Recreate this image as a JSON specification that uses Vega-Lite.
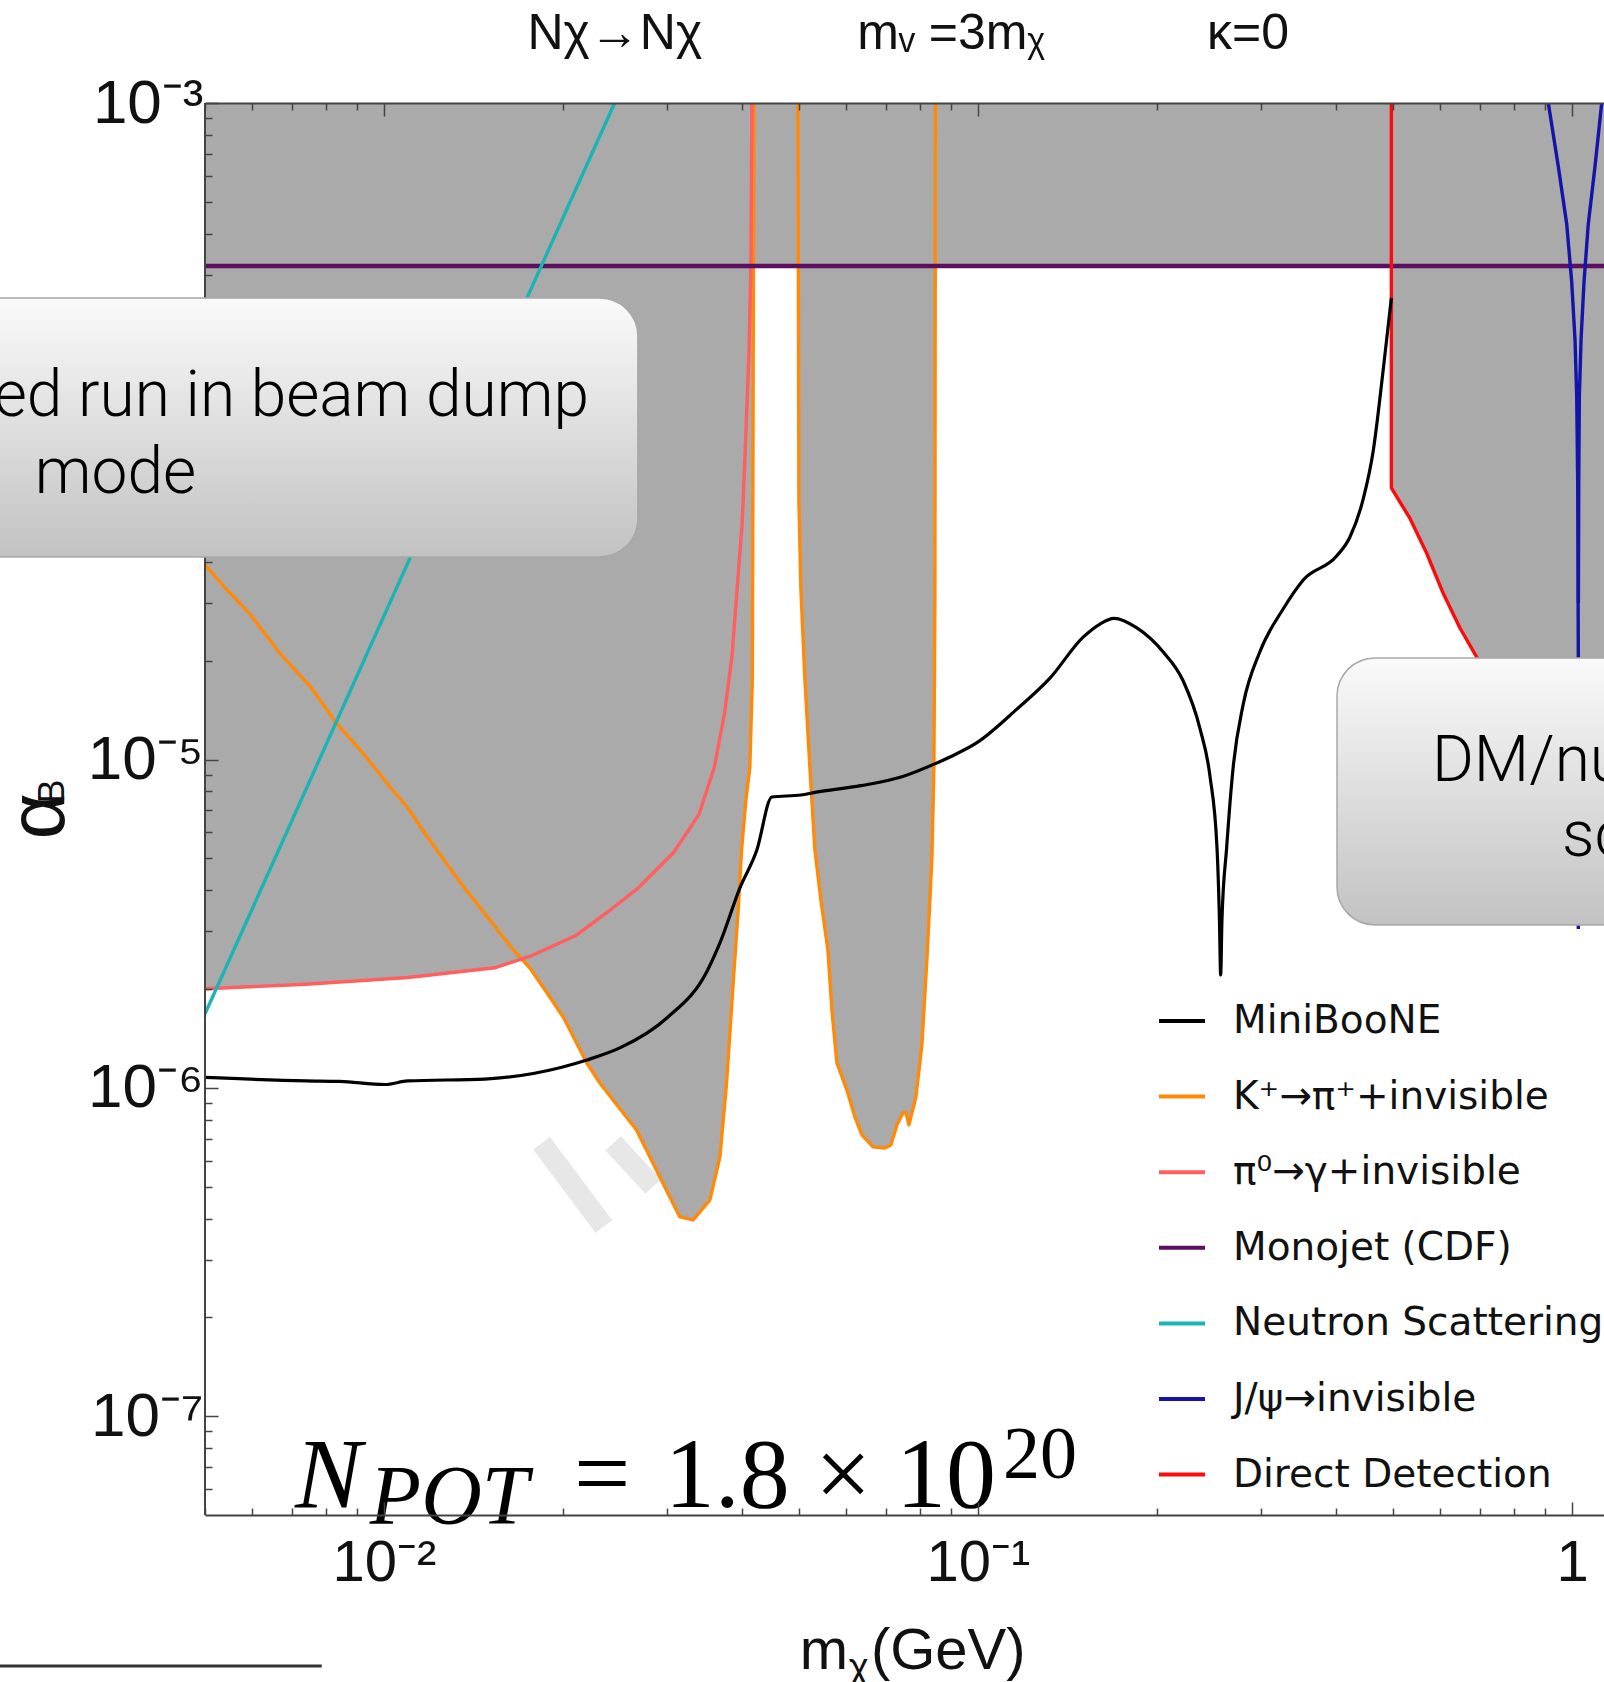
{
  "$schema": "https://vega.github.io/schema/vega-lite/v6.json",
  "width": 1399,
  "height": 1412,
  "autosize": {"type": "none"},
  "padding": {"left": 205, "top": 103, "right": 0, "bottom": 167},
  "background": "white",
  "config": {"view": {"stroke": null}},
  "resolve": {"axis": {"x": "independent", "y": "independent"}},
  "datasets": {
    "curves": [
      {"s": "MiniBooNE", "p": "bk", "m": 0.005, "a": 1.076e-6},
      {"s": "MiniBooNE", "p": "bk", "m": 0.00739, "a": 1.050e-6},
      {"s": "MiniBooNE", "p": "bk", "m": 0.00843, "a": 1.046e-6},
      {"s": "MiniBooNE", "p": "bk", "m": 0.01004, "a": 1.024e-6},
      {"s": "MiniBooNE", "p": "bk", "m": 0.01097, "a": 1.050e-6},
      {"s": "MiniBooNE", "p": "bk", "m": 0.01479, "a": 1.064e-6},
      {"s": "MiniBooNE", "p": "bk", "m": 0.01986, "a": 1.154e-6},
      {"s": "MiniBooNE", "p": "bk", "m": 0.02197, "a": 1.216e-6},
      {"s": "MiniBooNE", "p": "bk", "m": 0.02506, "a": 1.328e-6},
      {"s": "MiniBooNE", "p": "bk", "m": 0.02995, "a": 1.633e-6},
      {"s": "MiniBooNE", "p": "bk", "m": 0.03498, "a": 2.262e-6},
      {"s": "MiniBooNE", "p": "bk", "m": 0.03679, "a": 2.763e-6},
      {"s": "MiniBooNE", "p": "bk", "m": 0.03974, "a": 4.062e-6},
      {"s": "MiniBooNE", "p": "bk", "m": 0.04245, "a": 5.304e-6},
      {"s": "MiniBooNE", "p": "bk", "m": 0.04499, "a": 7.69e-6},
      {"s": "MiniBooNE", "p": "bk", "m": 0.05035, "a": 7.80e-6},
      {"s": "MiniBooNE", "p": "bk", "m": 0.05316, "a": 7.944e-6},
      {"s": "MiniBooNE", "p": "bk", "m": 0.06353, "a": 8.327e-6},
      {"s": "MiniBooNE", "p": "bk", "m": 0.07449, "a": 8.862e-6},
      {"s": "MiniBooNE", "p": "bk", "m": 0.08497, "a": 9.736e-6},
      {"s": "MiniBooNE", "p": "bk", "m": 0.08972, "a": 1.0183e-5},
      {"s": "MiniBooNE", "p": "bk", "m": 0.09961, "a": 1.1257e-5},
      {"s": "MiniBooNE", "p": "bk", "m": 0.1163, "a": 1.4243e-5},
      {"s": "MiniBooNE", "p": "bk", "m": 0.1322, "a": 1.7702e-5},
      {"s": "MiniBooNE", "p": "bk", "m": 0.1502, "a": 2.356e-5},
      {"s": "MiniBooNE", "p": "bk", "m": 0.1605, "a": 2.588e-5},
      {"s": "MiniBooNE", "p": "bk", "m": 0.1694, "a": 2.694e-5},
      {"s": "MiniBooNE", "p": "bk", "m": 0.1852, "a": 2.518e-5},
      {"s": "MiniBooNE", "p": "bk", "m": 0.2049, "a": 2.13e-5},
      {"s": "MiniBooNE", "p": "bk", "m": 0.2214, "a": 1.741e-5},
      {"s": "MiniBooNE", "p": "bk", "m": 0.2364, "a": 1.2455e-5},
      {"s": "MiniBooNE", "p": "bk", "m": 0.2458, "a": 8.905e-6},
      {"s": "MiniBooNE", "p": "bk", "m": 0.2526, "a": 5.383e-6},
      {"s": "MiniBooNE", "p": "bk", "m": 0.2550, "a": 3.246e-6},
      {"s": "MiniBooNE", "p": "bk", "m": 0.2562, "a": 2.207e-6},
      {"s": "MiniBooNE", "p": "bk", "m": 0.2575, "a": 3.246e-6},
      {"s": "MiniBooNE", "p": "bk", "m": 0.2622, "a": 5.383e-6},
      {"s": "MiniBooNE", "p": "bk", "m": 0.2690, "a": 9.52e-6},
      {"s": "MiniBooNE", "p": "bk", "m": 0.2796, "a": 1.4729e-5},
      {"s": "MiniBooNE", "p": "bk", "m": 0.2983, "a": 2.13e-5},
      {"s": "MiniBooNE", "p": "bk", "m": 0.3266, "a": 2.88e-5},
      {"s": "MiniBooNE", "p": "bk", "m": 0.3529, "a": 3.524e-5},
      {"s": "MiniBooNE", "p": "bk", "m": 0.4016, "a": 4.168e-5},
      {"s": "MiniBooNE", "p": "bk", "m": 0.4229, "a": 4.764e-5},
      {"s": "MiniBooNE", "p": "bk", "m": 0.4453, "a": 6.232e-5},
      {"s": "MiniBooNE", "p": "bk", "m": 0.4628, "a": 8.715e-5},
      {"s": "MiniBooNE", "p": "bk", "m": 0.4811, "a": 1.541e-4},
      {"s": "MiniBooNE", "p": "bk", "m": 0.4965, "a": 2.55e-4},

      {"s": "K⁺→π⁺+invisible", "p": "k1", "m": 0.005, "a": 3.924e-5},
      {"s": "K⁺→π⁺+invisible", "p": "k1", "m": 0.005389, "a": 3.355e-5},
      {"s": "K⁺→π⁺+invisible", "p": "k1", "m": 0.005948, "a": 2.78e-5},
      {"s": "K⁺→π⁺+invisible", "p": "k1", "m": 0.006697, "a": 2.098e-5},
      {"s": "K⁺→π⁺+invisible", "p": "k1", "m": 0.007542, "a": 1.658e-5},
      {"s": "K⁺→π⁺+invisible", "p": "k1", "m": 0.008325, "a": 1.291e-5},
      {"s": "K⁺→π⁺+invisible", "p": "k1", "m": 0.00919, "a": 1.053e-5},
      {"s": "K⁺→π⁺+invisible", "p": "k1", "m": 0.01035, "a": 8.07e-6},
      {"s": "K⁺→π⁺+invisible", "p": "k1", "m": 0.01098, "a": 7.12e-6},
      {"s": "K⁺→π⁺+invisible", "p": "k1", "m": 0.01177, "a": 5.90e-6},
      {"s": "K⁺→π⁺+invisible", "p": "k1", "m": 0.01261, "a": 4.966e-6},
      {"s": "K⁺→π⁺+invisible", "p": "k1", "m": 0.01351, "a": 4.18e-6},
      {"s": "K⁺→π⁺+invisible", "p": "k1", "m": 0.01507, "a": 3.255e-6},
      {"s": "K⁺→π⁺+invisible", "p": "k1", "m": 0.01632, "a": 2.70e-6},
      {"s": "K⁺→π⁺+invisible", "p": "k1", "m": 0.01765, "a": 2.307e-6},
      {"s": "K⁺→π⁺+invisible", "p": "k1", "m": 0.01873, "a": 1.973e-6},
      {"s": "K⁺→π⁺+invisible", "p": "k1", "m": 0.02008, "a": 1.635e-6},
      {"s": "K⁺→π⁺+invisible", "p": "k1", "m": 0.02194, "a": 1.195e-6},
      {"s": "K⁺→π⁺+invisible", "p": "k1", "m": 0.0231, "a": 1.035e-6},
      {"s": "K⁺→π⁺+invisible", "p": "k1", "m": 0.02663, "a": 7.44e-7},
      {"s": "K⁺→π⁺+invisible", "p": "k1", "m": 0.02915, "a": 5.354e-7},
      {"s": "K⁺→π⁺+invisible", "p": "k1", "m": 0.0315, "a": 4.044e-7},
      {"s": "K⁺→π⁺+invisible", "p": "k1", "m": 0.03317, "a": 3.96e-7},
      {"s": "K⁺→π⁺+invisible", "p": "k1", "m": 0.03539, "a": 4.556e-7},
      {"s": "K⁺→π⁺+invisible", "p": "k1", "m": 0.03679, "a": 6.16e-7},
      {"s": "K⁺→π⁺+invisible", "p": "k1", "m": 0.03775, "a": 1.035e-6},
      {"s": "K⁺→π⁺+invisible", "p": "k1", "m": 0.03873, "a": 2.087e-6},
      {"s": "K⁺→π⁺+invisible", "p": "k1", "m": 0.03949, "a": 3.482e-6},
      {"s": "K⁺→π⁺+invisible", "p": "k1", "m": 0.04001, "a": 5.30e-6},
      {"s": "K⁺→π⁺+invisible", "p": "k1", "m": 0.04068, "a": 7.53e-6},
      {"s": "K⁺→π⁺+invisible", "p": "k1", "m": 0.04131, "a": 9.44e-6},
      {"s": "K⁺→π⁺+invisible", "p": "k1", "m": 0.04172, "a": 1.772e-5},
      {"s": "K⁺→π⁺+invisible", "p": "k1", "m": 0.0418, "a": 6.18e-5},
      {"s": "K⁺→π⁺+invisible", "p": "k1", "m": 0.04188, "a": 2.51e-4},
      {"s": "K⁺→π⁺+invisible", "p": "k1", "m": 0.04196, "a": 1e-3},

      {"s": "K⁺→π⁺+invisible", "p": "k2", "m": 0.04977, "a": 1e-3},
      {"s": "K⁺→π⁺+invisible", "p": "k2", "m": 0.04996, "a": 6.18e-5},
      {"s": "K⁺→π⁺+invisible", "p": "k2", "m": 0.05035, "a": 3.31e-5},
      {"s": "K⁺→π⁺+invisible", "p": "k2", "m": 0.05114, "a": 1.748e-5},
      {"s": "K⁺→π⁺+invisible", "p": "k2", "m": 0.05214, "a": 9.43e-6},
      {"s": "K⁺→π⁺+invisible", "p": "k2", "m": 0.05316, "a": 5.30e-6},
      {"s": "K⁺→π⁺+invisible", "p": "k2", "m": 0.05441, "a": 3.734e-6},
      {"s": "K⁺→π⁺+invisible", "p": "k2", "m": 0.05591, "a": 2.63e-6},
      {"s": "K⁺→π⁺+invisible", "p": "k2", "m": 0.05678, "a": 1.727e-6},
      {"s": "K⁺→π⁺+invisible", "p": "k2", "m": 0.05789, "a": 1.191e-6},
      {"s": "K⁺→π⁺+invisible", "p": "k2", "m": 0.06019, "a": 9.85e-7},
      {"s": "K⁺→π⁺+invisible", "p": "k2", "m": 0.06208, "a": 8.15e-7},
      {"s": "K⁺→π⁺+invisible", "p": "k2", "m": 0.06379, "a": 7.19e-7},
      {"s": "K⁺→π⁺+invisible", "p": "k2", "m": 0.06656, "a": 6.61e-7},
      {"s": "K⁺→π⁺+invisible", "p": "k2", "m": 0.06972, "a": 6.56e-7},
      {"s": "K⁺→π⁺+invisible", "p": "k2", "m": 0.07137, "a": 6.70e-7},
      {"s": "K⁺→π⁺+invisible", "p": "k2", "m": 0.07305, "a": 7.71e-7},
      {"s": "K⁺→π⁺+invisible", "p": "k2", "m": 0.07477, "a": 8.38e-7},
      {"s": "K⁺→π⁺+invisible", "p": "k2", "m": 0.07565, "a": 8.44e-7},
      {"s": "K⁺→π⁺+invisible", "p": "k2", "m": 0.07653, "a": 7.71e-7},
      {"s": "K⁺→π⁺+invisible", "p": "k2", "m": 0.07863, "a": 9.38e-7},
      {"s": "K⁺→π⁺+invisible", "p": "k2", "m": 0.08048, "a": 1.351e-6},
      {"s": "K⁺→π⁺+invisible", "p": "k2", "m": 0.08205, "a": 2.45e-6},
      {"s": "K⁺→π⁺+invisible", "p": "k2", "m": 0.08302, "a": 3.734e-6},
      {"s": "K⁺→π⁺+invisible", "p": "k2", "m": 0.08367, "a": 5.05e-6},
      {"s": "K⁺→π⁺+invisible", "p": "k2", "m": 0.08431, "a": 9.43e-6},
      {"s": "K⁺→π⁺+invisible", "p": "k2", "m": 0.08464, "a": 3.06e-5},
      {"s": "K⁺→π⁺+invisible", "p": "k2", "m": 0.08481, "a": 1e-3},

      {"s": "π⁰→γ+invisible", "p": "pi", "m": 0.005, "a": 2.004e-6},
      {"s": "π⁰→γ+invisible", "p": "pi", "m": 0.00739, "a": 2.068e-6},
      {"s": "π⁰→γ+invisible", "p": "pi", "m": 0.01098, "a": 2.168e-6},
      {"s": "π⁰→γ+invisible", "p": "pi", "m": 0.01537, "a": 2.322e-6},
      {"s": "π⁰→γ+invisible", "p": "pi", "m": 0.01765, "a": 2.518e-6},
      {"s": "π⁰→γ+invisible", "p": "pi", "m": 0.02109, "a": 2.918e-6},
      {"s": "π⁰→γ+invisible", "p": "pi", "m": 0.02422, "a": 3.518e-6},
      {"s": "π⁰→γ+invisible", "p": "pi", "m": 0.02675, "a": 4.05e-6},
      {"s": "π⁰→γ+invisible", "p": "pi", "m": 0.03072, "a": 5.203e-6},
      {"s": "π⁰→γ+invisible", "p": "pi", "m": 0.03391, "a": 6.795e-6},
      {"s": "π⁰→γ+invisible", "p": "pi", "m": 0.03598, "a": 9.44e-6},
      {"s": "π⁰→γ+invisible", "p": "pi", "m": 0.03743, "a": 1.374e-5},
      {"s": "π⁰→γ+invisible", "p": "pi", "m": 0.03855, "a": 2.065e-5},
      {"s": "π⁰→γ+invisible", "p": "pi", "m": 0.03932, "a": 3.302e-5},
      {"s": "π⁰→γ+invisible", "p": "pi", "m": 0.04011, "a": 5.28e-5},
      {"s": "π⁰→γ+invisible", "p": "pi", "m": 0.04058, "a": 8.77e-5},
      {"s": "π⁰→γ+invisible", "p": "pi", "m": 0.04119, "a": 1.77e-4},
      {"s": "π⁰→γ+invisible", "p": "pi", "m": 0.04148, "a": 3.21e-4},
      {"s": "π⁰→γ+invisible", "p": "pi", "m": 0.04164, "a": 1e-3},

      {"s": "Monojet (CDF)", "p": "mono", "m": 0.005, "a": 3.188e-4},
      {"s": "Monojet (CDF)", "p": "mono", "m": 1.2, "a": 3.188e-4},

      {"s": "Neutron Scattering", "p": "ns", "m": 0.005, "a": 1.68e-6},
      {"s": "Neutron Scattering", "p": "ns", "m": 0.02446, "a": 1e-3},

      {"s": "J/ψ→invisible", "p": "j1", "m": 0.9122, "a": 1e-3},
      {"s": "J/ψ→invisible", "p": "j1", "m": 0.9483, "a": 6.405e-4},
      {"s": "J/ψ→invisible", "p": "j1", "m": 0.9797, "a": 4.28e-4},
      {"s": "J/ψ→invisible", "p": "j1", "m": 0.9988, "a": 2.85e-4},
      {"s": "J/ψ→invisible", "p": "j1", "m": 1.0118, "a": 1.897e-4},
      {"s": "J/ψ→invisible", "p": "j1", "m": 1.0184, "a": 1.272e-4},
      {"s": "J/ψ→invisible", "p": "j1", "m": 1.0224, "a": 6.91e-5},
      {"s": "J/ψ→invisible", "p": "j1", "m": 1.0247, "a": 2.053e-5},
      {"s": "J/ψ→invisible", "p": "j1", "m": 1.0247, "a": 3.05e-6},
      {"s": "J/ψ→invisible", "p": "j2", "m": 1.122, "a": 1e-3},
      {"s": "J/ψ→invisible", "p": "j2", "m": 1.0932, "a": 6.405e-4},
      {"s": "J/ψ→invisible", "p": "j2", "m": 1.0651, "a": 4.28e-4},
      {"s": "J/ψ→invisible", "p": "j2", "m": 1.0476, "a": 2.85e-4},
      {"s": "J/ψ→invisible", "p": "j2", "m": 1.0356, "a": 1.897e-4},
      {"s": "J/ψ→invisible", "p": "j2", "m": 1.0288, "a": 1.272e-4},
      {"s": "J/ψ→invisible", "p": "j2", "m": 1.0264, "a": 6.91e-5},
      {"s": "J/ψ→invisible", "p": "j2", "m": 1.025, "a": 3.0e-5},

      {"s": "Direct Detection", "p": "dd", "m": 0.4965, "a": 1e-3},
      {"s": "Direct Detection", "p": "dd", "m": 0.4965, "a": 6.72e-5},
      {"s": "Direct Detection", "p": "dd", "m": 0.5337, "a": 5.425e-5},
      {"s": "Direct Detection", "p": "dd", "m": 0.5691, "a": 4.258e-5},
      {"s": "Direct Detection", "p": "dd", "m": 0.6073, "a": 3.205e-5},
      {"s": "Direct Detection", "p": "dd", "m": 0.6477, "a": 2.517e-5},
      {"s": "Direct Detection", "p": "dd", "m": 0.6912, "a": 2.053e-5},
      {"s": "Direct Detection", "p": "dd", "m": 0.7565, "a": 1.519e-5},
      {"s": "Direct Detection", "p": "dd", "m": 0.8834, "a": 8.67e-6},
      {"s": "Direct Detection", "p": "dd", "m": 1.2, "a": 4.5e-6}
    ],
    "watermark": [
      {"p": "w1", "m": 0.01843, "a": 6.78e-7},
      {"p": "w1", "m": 0.02346, "a": 3.78e-7},
      {"p": "w2", "m": 0.02432, "a": 6.78e-7},
      {"p": "w2", "m": 0.0284, "a": 5.0e-7}
    ],
    "frame": [{"m": 0.005, "a": 5e-8, "a2": 0.001}],
    "tops": [
      {"m": 0.02448, "a": 0.00146, "t": "Nχ→Nχ"},
      {"m": 0.09006, "a": 0.00146, "t": "mᵥ =3mᵪ"},
      {"m": 0.2848, "a": 0.00146, "t": "κ=0"}
    ],
    "npItalic": [{"m": 0.007085, "a": 5.29e-8, "t": "N"}],
    "npSub": [{"m": 0.009472, "a": 4.71e-8, "t": "POT"}],
    "npMain": [
      {"m": 0.02089, "a": 5.29e-8, "t": "="},
      {"m": 0.02972, "a": 5.29e-8, "t": "1.8"},
      {"m": 0.05316, "a": 5.29e-8, "t": "×"},
      {"m": 0.07278, "a": 5.29e-8, "t": "10"}
    ],
    "npSup": [{"m": 0.1102, "a": 6.48e-8, "t": "20"}],
    "xTitle": [
      {"m": 0.05015, "a": 1.698e-8, "t": "m"},
      {"m": 0.06605, "a": 1.698e-8, "t": "(GeV)"}
    ],
    "xTitleSub": [{"m": 0.06064, "a": 1.572e-8, "t": "χ"}],
    "yTitle": [{"m": 0.002892, "a": 5.716e-6, "t": "α"}],
    "yTitleSub": [{"m": 0.002892, "a": 7.345e-6, "t": "B"}],
    "boxes": [
      {"m1": 0.0012, "m2": 0.02677, "a1": 4.14e-5, "a2": 2.547e-4},
      {"m1": 0.4022, "m2": 3.0, "a1": 3.134e-6, "a2": 2.039e-5}
    ],
    "boxRight": [{"m": 0.02214, "a": 1.113e-4, "t": "Dedicated run in beam dump"}],
    "boxCenter": [{"m": 0.003533, "a": 6.49e-5, "t": "mode"}],
    "boxLeft": [
      {"m": 0.581, "a": 8.6e-6, "t": "DM/nucleon elastic"},
      {"m": 0.962, "a": 5.085e-6, "t": "scattering"}
    ],
    "underline": [{"m": 0.0015, "m2": 0.00786, "a": 1.734e-8}]
  },
  "layer": [
    {
      "data": {"name": "watermark"},
      "mark": {"type": "line", "color": "#e7e7e7", "strokeWidth": 21, "strokeCap": "butt", "clip": true},
      "encoding": {
        "x": {"field": "m", "type": "quantitative", "scale": {"type": "log", "domain": [0.005, 1.132], "nice": false}, "axis": null},
        "y": {"field": "a", "type": "quantitative", "scale": {"type": "log", "domain": [5e-8, 0.001], "nice": false}, "axis": null},
        "detail": {"field": "p"},
        "order": {"value": null}
      }
    },
    {
      "data": {"name": "curves"},
      "transform": [{"filter": {"field": "s", "oneOf": ["K⁺→π⁺+invisible", "π⁰→γ+invisible", "Monojet (CDF)", "Direct Detection"]}}],
      "mark": {"type": "area", "color": "#aaaaaa", "clip": true},
      "encoding": {
        "x": {
          "field": "m", "type": "quantitative",
          "scale": {"type": "log", "domain": [0.005, 1.132], "nice": false},
          "axis": {
            "orient": "bottom",
            "values": [0.005, 0.006, 0.007, 0.008, 0.009, 0.01, 0.02, 0.03, 0.04, 0.05, 0.06, 0.07, 0.08, 0.09, 0.1, 0.2, 0.3, 0.4, 0.5, 0.6, 0.7, 0.8, 0.9, 1],
            "labelExpr": "datum.value == 0.01 ? '10⁻²' : datum.value == 0.1 ? '10⁻¹' : datum.value == 1 ? '1' : ''",
            "tickSize": {"condition": {"test": "datum.value == 0.01 || datum.value == 0.1 || datum.value == 1", "value": -13}, "value": -7},
            "tickColor": "#444444", "tickWidth": 1.5,
            "domainColor": "#444444", "domainWidth": 2,
            "labelFont": "Liberation Sans Narrow, Liberation Sans, sans-serif",
            "labelFontSize": 58, "labelColor": "#111111",
            "labelBaseline": "top", "labelPadding": 32,
            "labelOverlap": false, "labelFlush": false, "labelBound": false,
            "title": null, "grid": false, "zindex": 1
          }
        },
        "y": {
          "field": "a", "type": "quantitative",
          "scale": {"type": "log", "domain": [5e-8, 0.001], "nice": false},
          "axis": {
            "orient": "left",
            "values": [6e-8, 7e-8, 8e-8, 9e-8, 1e-7, 2e-7, 3e-7, 4e-7, 5e-7, 6e-7, 7e-7, 8e-7, 9e-7, 1e-6, 2e-6, 3e-6, 4e-6, 5e-6, 6e-6, 7e-6, 8e-6, 9e-6, 1e-5, 2e-5, 3e-5, 4e-5, 3e-4, 4e-4, 5e-4, 6e-4, 7e-4, 8e-4, 9e-4, 0.001],
            "labelExpr": "datum.value == 0.001 ? '10⁻³' : datum.value == 0.00001 ? '10⁻⁵' : datum.value == 0.000001 ? '10⁻⁶' : datum.value == 0.0000001 ? '10⁻⁷' : ''",
            "tickSize": {"condition": {"test": "datum.value == 0.001 || datum.value == 0.00001 || datum.value == 0.000001 || datum.value == 0.0000001", "value": -13}, "value": -7},
            "tickColor": "#444444", "tickWidth": 1.5,
            "domain": false,
            "labelFont": "Liberation Sans Narrow, Liberation Sans, sans-serif",
            "labelFontSize": 62, "labelColor": "#111111",
            "labelBaseline": "middle", "labelPadding": 15,
            "labelOverlap": false, "labelFlush": false, "labelBound": false,
            "title": null, "grid": false, "zindex": 1
          }
        },
        "y2": {"datum": 0.001},
        "detail": {"field": "p"}
      }
    },
    {
      "data": {"name": "curves"},
      "transform": [{"filter": "datum.s != 'MiniBooNE'"}],
      "mark": {"type": "line", "clip": true, "strokeJoin": "round", "strokeCap": "butt"},
      "encoding": {
        "x": {
          "field": "m", "type": "quantitative",
          "scale": {"type": "log", "domain": [0.005, 1.132], "nice": false},
          "axis": {
            "orient": "top",
            "values": [0.005, 0.006, 0.007, 0.008, 0.009, 0.01, 0.02, 0.03, 0.04, 0.05, 0.06, 0.07, 0.08, 0.09, 0.1, 0.2, 0.3, 0.4, 0.5, 0.6, 0.7, 0.8, 0.9, 1],
            "labels": false,
            "tickSize": {"condition": {"test": "datum.value == 0.01 || datum.value == 0.1 || datum.value == 1", "value": -13}, "value": -7},
            "tickColor": "#444444", "tickWidth": 1.5,
            "domainColor": "#444444", "domainWidth": 2,
            "title": null, "grid": false, "zindex": 1
          }
        },
        "y": {"field": "a", "type": "quantitative", "scale": {"type": "log", "domain": [5e-8, 0.001], "nice": false}, "axis": null},
        "color": {
          "field": "s", "type": "nominal",
          "scale": {
            "domain": ["MiniBooNE", "K⁺→π⁺+invisible", "π⁰→γ+invisible", "Monojet (CDF)", "Neutron Scattering", "J/ψ→invisible", "Direct Detection"],
            "range": ["#000000", "#ff8a0a", "#ff5f5f", "#5b0f61", "#1cb3b3", "#1414aa", "#ff0a0a"]
          },
          "legend": {
            "orient": "none", "legendX": 952, "legendY": 893,
            "title": null, "symbolType": "stroke", "symbolSize": 2116, "symbolStrokeWidth": 4,
            "labelFont": "DejaVu Sans", "labelFontSize": 39, "labelColor": "#111111",
            "labelOffset": 26, "rowPadding": 30.6, "padding": 0, "labelLimit": 0
          }
        },
        "strokeWidth": {"condition": {"test": "datum.s == 'Monojet (CDF)'", "value": 4.5}, "value": 3.4},
        "detail": {"field": "p"},
        "order": {"value": null}
      }
    },
    {
      "data": {"name": "curves"},
      "transform": [{"filter": "datum.s == 'MiniBooNE'"}],
      "mark": {"type": "line", "clip": true, "strokeJoin": "round", "interpolate": "monotone", "strokeWidth": 3.2},
      "encoding": {
        "x": {"field": "m", "type": "quantitative", "scale": {"type": "log", "domain": [0.005, 1.132], "nice": false}, "axis": null},
        "y": {"field": "a", "type": "quantitative", "scale": {"type": "log", "domain": [5e-8, 0.001], "nice": false}, "axis": null},
        "color": {
          "field": "s", "type": "nominal",
          "scale": {
            "domain": ["MiniBooNE", "K⁺→π⁺+invisible", "π⁰→γ+invisible", "Monojet (CDF)", "Neutron Scattering", "J/ψ→invisible", "Direct Detection"],
            "range": ["#000000", "#ff8a0a", "#ff5f5f", "#5b0f61", "#1cb3b3", "#1414aa", "#ff0a0a"]
          },
          "legend": {
            "orient": "none", "legendX": 952, "legendY": 893,
            "title": null, "symbolType": "stroke", "symbolSize": 2116, "symbolStrokeWidth": 4,
            "labelFont": "DejaVu Sans", "labelFontSize": 39, "labelColor": "#111111",
            "labelOffset": 26, "rowPadding": 30.6, "padding": 0, "labelLimit": 0
          }
        }
      }
    },
    {
      "data": {"name": "frame"},
      "mark": {"type": "rule", "color": "#444444", "strokeWidth": 2},
      "encoding": {
        "x": {"field": "m", "type": "quantitative", "scale": {"type": "log", "domain": [0.005, 1.132], "nice": false}, "axis": null},
        "y": {"field": "a", "type": "quantitative", "scale": {"type": "log", "domain": [5e-8, 0.001], "nice": false}, "axis": null},
        "y2": {"field": "a2"}
      }
    },
    {
      "data": {"name": "tops"},
      "mark": {"type": "text", "font": "Liberation Sans Narrow, Liberation Sans, sans-serif", "fontSize": 50, "align": "center", "baseline": "alphabetic", "color": "#111111"},
      "encoding": {
        "x": {"field": "m", "type": "quantitative", "scale": {"type": "log", "domain": [0.005, 1.132], "nice": false}, "axis": null},
        "y": {"field": "a", "type": "quantitative", "scale": {"type": "log", "domain": [5e-8, 0.001], "nice": false}, "axis": null},
        "text": {"field": "t"}
      }
    },
    {
      "data": {"name": "npItalic"},
      "mark": {"type": "text", "font": "Liberation Serif", "fontStyle": "italic", "fontSize": 100, "align": "left", "baseline": "alphabetic", "color": "#000000"},
      "encoding": {
        "x": {"field": "m", "type": "quantitative", "scale": {"type": "log", "domain": [0.005, 1.132], "nice": false}, "axis": null},
        "y": {"field": "a", "type": "quantitative", "scale": {"type": "log", "domain": [5e-8, 0.001], "nice": false}, "axis": null},
        "text": {"field": "t"}
      }
    },
    {
      "data": {"name": "npSub"},
      "mark": {"type": "text", "font": "Liberation Serif", "fontStyle": "italic", "fontSize": 84, "align": "left", "baseline": "alphabetic", "color": "#000000"},
      "encoding": {
        "x": {"field": "m", "type": "quantitative", "scale": {"type": "log", "domain": [0.005, 1.132], "nice": false}, "axis": null},
        "y": {"field": "a", "type": "quantitative", "scale": {"type": "log", "domain": [5e-8, 0.001], "nice": false}, "axis": null},
        "text": {"field": "t"}
      }
    },
    {
      "data": {"name": "npMain"},
      "mark": {"type": "text", "font": "Liberation Serif", "fontSize": 100, "align": "left", "baseline": "alphabetic", "color": "#000000"},
      "encoding": {
        "x": {"field": "m", "type": "quantitative", "scale": {"type": "log", "domain": [0.005, 1.132], "nice": false}, "axis": null},
        "y": {"field": "a", "type": "quantitative", "scale": {"type": "log", "domain": [5e-8, 0.001], "nice": false}, "axis": null},
        "text": {"field": "t"}
      }
    },
    {
      "data": {"name": "npSup"},
      "mark": {"type": "text", "font": "Liberation Serif", "fontSize": 74, "align": "left", "baseline": "alphabetic", "color": "#000000"},
      "encoding": {
        "x": {"field": "m", "type": "quantitative", "scale": {"type": "log", "domain": [0.005, 1.132], "nice": false}, "axis": null},
        "y": {"field": "a", "type": "quantitative", "scale": {"type": "log", "domain": [5e-8, 0.001], "nice": false}, "axis": null},
        "text": {"field": "t"}
      }
    },
    {
      "data": {"name": "xTitle"},
      "mark": {"type": "text", "font": "Liberation Sans", "fontSize": 58, "align": "left", "baseline": "alphabetic", "color": "#111111"},
      "encoding": {
        "x": {"field": "m", "type": "quantitative", "scale": {"type": "log", "domain": [0.005, 1.132], "nice": false}, "axis": null},
        "y": {"field": "a", "type": "quantitative", "scale": {"type": "log", "domain": [5e-8, 0.001], "nice": false}, "axis": null},
        "text": {"field": "t"}
      }
    },
    {
      "data": {"name": "xTitleSub"},
      "mark": {"type": "text", "font": "Liberation Sans", "fontSize": 38, "align": "left", "baseline": "alphabetic", "color": "#111111"},
      "encoding": {
        "x": {"field": "m", "type": "quantitative", "scale": {"type": "log", "domain": [0.005, 1.132], "nice": false}, "axis": null},
        "y": {"field": "a", "type": "quantitative", "scale": {"type": "log", "domain": [5e-8, 0.001], "nice": false}, "axis": null},
        "text": {"field": "t"}
      }
    },
    {
      "data": {"name": "yTitle"},
      "mark": {"type": "text", "font": "Liberation Sans", "fontSize": 80, "align": "left", "baseline": "alphabetic", "angle": 270, "color": "#111111"},
      "encoding": {
        "x": {"field": "m", "type": "quantitative", "scale": {"type": "log", "domain": [0.005, 1.132], "nice": false}, "axis": null},
        "y": {"field": "a", "type": "quantitative", "scale": {"type": "log", "domain": [5e-8, 0.001], "nice": false}, "axis": null},
        "text": {"field": "t"}
      }
    },
    {
      "data": {"name": "yTitleSub"},
      "mark": {"type": "text", "font": "Liberation Sans", "fontSize": 36, "align": "left", "baseline": "alphabetic", "angle": 270, "color": "#111111"},
      "encoding": {
        "x": {"field": "m", "type": "quantitative", "scale": {"type": "log", "domain": [0.005, 1.132], "nice": false}, "axis": null},
        "y": {"field": "a", "type": "quantitative", "scale": {"type": "log", "domain": [5e-8, 0.001], "nice": false}, "axis": null},
        "text": {"field": "t"}
      }
    },
    {
      "data": {"name": "boxes"},
      "mark": {
        "type": "rect", "cornerRadius": 38, "stroke": "#a8a8a8", "strokeWidth": 1.5,
        "fill": {"gradient": "linear", "x1": 0, "y1": 0, "x2": 0, "y2": 1,
          "stops": [{"offset": 0, "color": "#fafafa"}, {"offset": 0.5, "color": "#dedede"}, {"offset": 1, "color": "#c2c2c2"}]}
      },
      "encoding": {
        "x": {"field": "m1", "type": "quantitative", "scale": {"type": "log", "domain": [0.005, 1.132], "nice": false}, "axis": null},
        "x2": {"field": "m2"},
        "y": {"field": "a1", "type": "quantitative", "scale": {"type": "log", "domain": [5e-8, 0.001], "nice": false}, "axis": null},
        "y2": {"field": "a2"}
      }
    },
    {
      "data": {"name": "boxRight"},
      "mark": {"type": "text", "font": "Roboto", "fontWeight": 300, "fontSize": 64, "align": "right", "baseline": "alphabetic", "color": "#000000"},
      "encoding": {
        "x": {"field": "m", "type": "quantitative", "scale": {"type": "log", "domain": [0.005, 1.132], "nice": false}, "axis": null},
        "y": {"field": "a", "type": "quantitative", "scale": {"type": "log", "domain": [5e-8, 0.001], "nice": false}, "axis": null},
        "text": {"field": "t"}
      }
    },
    {
      "data": {"name": "boxCenter"},
      "mark": {"type": "text", "font": "Roboto", "fontWeight": 300, "fontSize": 64, "align": "center", "baseline": "alphabetic", "color": "#000000"},
      "encoding": {
        "x": {"field": "m", "type": "quantitative", "scale": {"type": "log", "domain": [0.005, 1.132], "nice": false}, "axis": null},
        "y": {"field": "a", "type": "quantitative", "scale": {"type": "log", "domain": [5e-8, 0.001], "nice": false}, "axis": null},
        "text": {"field": "t"}
      }
    },
    {
      "data": {"name": "boxLeft"},
      "mark": {"type": "text", "font": "Roboto", "fontWeight": 300, "fontSize": 64, "align": "left", "baseline": "alphabetic", "color": "#000000"},
      "encoding": {
        "x": {"field": "m", "type": "quantitative", "scale": {"type": "log", "domain": [0.005, 1.132], "nice": false}, "axis": null},
        "y": {"field": "a", "type": "quantitative", "scale": {"type": "log", "domain": [5e-8, 0.001], "nice": false}, "axis": null},
        "text": {"field": "t"}
      }
    },
    {
      "data": {"name": "underline"},
      "mark": {"type": "rule", "color": "#333333", "strokeWidth": 3},
      "encoding": {
        "x": {"field": "m", "type": "quantitative", "scale": {"type": "log", "domain": [0.005, 1.132], "nice": false}, "axis": null},
        "x2": {"field": "m2"},
        "y": {"field": "a", "type": "quantitative", "scale": {"type": "log", "domain": [5e-8, 0.001], "nice": false}, "axis": null}
      }
    }
  ]
}
